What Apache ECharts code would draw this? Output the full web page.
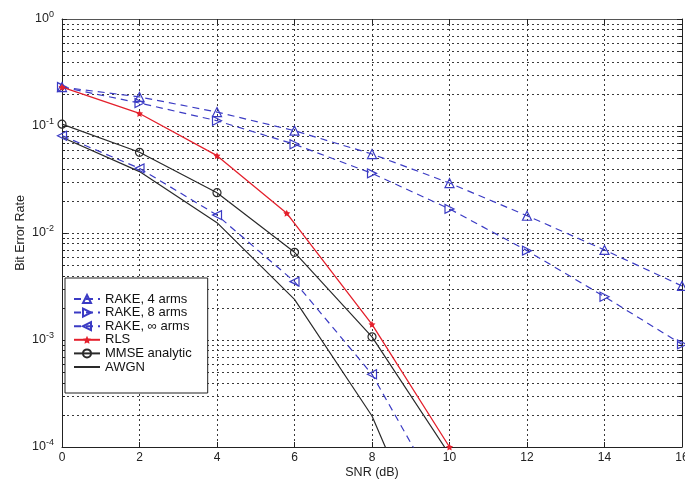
<!DOCTYPE html>
<html><head><meta charset="utf-8">
<script src="https://cdn.jsdelivr.net/npm/echarts@6/dist/echarts.min.js"></script>
<style>html,body{margin:0;padding:0;background:#fff}#c{width:685px;height:481px}</style>
</head><body><div id="c"></div>
<script>
var xTicks = [0, 2, 4, 6, 8, 10, 12, 14, 16];
var yMinorTicks = [2e-4,3e-4,4e-4,5e-4,6e-4,7e-4,8e-4,9e-4,
  2e-3,3e-3,4e-3,5e-3,6e-3,7e-3,8e-3,9e-3,
  2e-2,3e-2,4e-2,5e-2,6e-2,7e-2,8e-2,9e-2,
  0.2,0.3,0.4,0.5,0.6,0.7,0.8,0.9];
var snr = [0, 2, 4, 6, 8, 10, 12, 14, 16];
var rake4 = [0.231, 0.187, 0.135, 0.0904, 0.0547, 0.0293, 0.0145, 0.00694, 0.0032];
var rake8 = [0.231, 0.164, 0.112, 0.0675, 0.0361, 0.0168, 0.00684, 0.00254, 0.00091];
var rakeInfX = [0, 2, 4, 6, 8, 10];
var rakeInf = [0.0812, 0.0402, 0.0147, 0.00351, 0.000478, 0.000025];
var rlsX = [0, 2, 4, 5.8, 6, 8, 10];
var rls = [0.231, 0.131, 0.0528, 0.0153, 0.0123, 0.0014, 0.0001];
var rlsMarked = [true, true, true, true, false, true, true];
var mmseX = [0, 2, 4, 6, 8, 10];
var mmse = [0.104, 0.0568, 0.0238, 0.0066, 0.00107, 0.000085];
var awgnX = [0, 2, 4, 6, 8, 10];
var awgn = [0.0786, 0.0375, 0.0125, 0.00240, 0.000195, 0.000004];
var names = ['RAKE, 4 arms', 'RAKE, 8 arms', 'RAKE, \u221e arms', 'RLS', 'MMSE analytic', 'AWGN'];

function pairs(xs, ys){ return xs.map(function(x,i){ return [x, ys[i]]; }); }
var BLUE = '#3b3bc4', RED = '#e4202c', BLACK = '#2a2a2a';
var FONT = 'Liberation Sans';
var starPath = 'path://M0,-10 L2.9,-4 L9.5,-3.1 L4.8,1.5 L5.9,8.1 L0,5 L-5.9,8.1 L-4.8,1.5 L-9.5,-3.1 L-2.9,-4 Z';

var chart = echarts.init(document.getElementById('c'), null, {renderer:'canvas'});
var gridLine = {show:true, lineStyle:{color:'#3a3a3a', width:1, type:[2,3]}};
function triSeries(name, data, rot){
  return {name:name, type:'line', data:data, clip:true,
    symbol:'triangle', symbolSize:9, symbolRotate:rot, showSymbol:true,
    lineStyle:{color:BLUE, width:1.2, type:[7,5]},
    itemStyle:{color:'rgba(255,255,255,0)', borderColor:BLUE, borderWidth:1.2},
    emphasis:{disabled:true}, z:5};
}
var legendData = names.map(function(n){
  return n === 'AWGN' ? {name:n, itemStyle:{color:'rgba(0,0,0,0)', borderWidth:0, opacity:0}} : {name:n};
});
var option = {
  animation:false,
  backgroundColor:'#fff',
  textStyle:{fontFamily:FONT},
  grid:{left:62, right:3, top:19, bottom:34, containLabel:false, outerBoundsMode:'none'},
  xAxis:[{type:'value', min:0, max:16, interval:2, position:'bottom',
    name:'SNR (dB)', nameLocation:'middle', nameGap:19, nameMoveOverlap:false,
    nameTextStyle:{fontSize:12.5, color:'#222', fontFamily:FONT},
    axisLine:{show:true, onZero:false, lineStyle:{color:'#222', width:1}},
    axisTick:{show:true, inside:true, length:5, lineStyle:{color:'#222'}},
    axisLabel:{fontSize:12, color:'#222', margin:5, fontFamily:FONT},
    splitLine:gridLine},
   {type:'value', min:0, max:16, interval:2, position:'top',
    axisLine:{show:true, onZero:false, lineStyle:{color:'#555', width:1}},
    axisTick:{show:true, inside:true, length:5, lineStyle:{color:'#222'}},
    axisLabel:{show:false}, splitLine:{show:false}}],
  yAxis:[{type:'log', logBase:10, min:1e-4, max:1, position:'left',
    name:'Bit Error Rate', nameLocation:'middle', nameGap:35, nameRotate:90, nameMoveOverlap:false,
    nameTextStyle:{fontSize:12.5, color:'#222', fontFamily:FONT},
    axisLine:{show:true, onZero:false, lineStyle:{color:'#222', width:1}},
    axisTick:{show:true, inside:true, length:5, lineStyle:{color:'#222'}},
    axisLabel:{color:'#222', margin:8, fontFamily:FONT,
      formatter:function(v){ var e = Math.round(Math.log10(v)); return '{b|10}{s|' + (e===0?'0':'-'+(-e)) + '}'; },
      rich:{b:{fontSize:12.5, color:'#222', fontFamily:FONT}, s:{fontSize:9, color:'#222', fontFamily:FONT, verticalAlign:'top', padding:[0,0,9,0]}}},
    splitLine:gridLine},
   {type:'log', logBase:10, min:1e-4, max:1, position:'right',
    axisLine:{show:true, onZero:false, lineStyle:{color:'#222', width:1}},
    axisTick:{show:true, inside:true, length:5, lineStyle:{color:'#222'}},
    axisLabel:{show:false}, splitLine:{show:false}}],
  legend:{data:legendData, orient:'vertical', left:65, top:278,
    padding:[14.5,16,19.5,8], itemGap:0.6, itemWidth:26, itemHeight:10,
    backgroundColor:'#fff', borderColor:'#222', borderWidth:1, borderRadius:0,
    textStyle:{fontSize:13, color:'#111', fontFamily:FONT, lineHeight:13},
    selectedMode:false, z:20},
  series:[
    {name:'minorGrid', type:'custom', data:yMinorTicks.map(function(v){return [0,v];}),
      encode:{x:0, y:1}, silent:true, z:1, clip:false,
      renderItem:function(params, api){
        var p = api.coord([0, api.value(1)]);
        var cs = params.coordSys; var y = Math.round(p[1]) + 0.5;
        return {type:'group', children:[
          {type:'line', shape:{x1:cs.x, y1:y, x2:cs.x+cs.width, y2:y}, style:{stroke:'#3a3a3a', lineWidth:1, lineDash:[2,3]}},
          {type:'line', shape:{x1:cs.x, y1:y, x2:cs.x+3, y2:y}, style:{stroke:'#222', lineWidth:1}},
          {type:'line', shape:{x1:cs.x+cs.width-3, y1:y, x2:cs.x+cs.width, y2:y}, style:{stroke:'#222', lineWidth:1}}
        ]};
      }},
    triSeries(names[0], pairs(snr, rake4), 0),
    triSeries(names[1], pairs(snr, rake8), -90),
    triSeries(names[2], pairs(rakeInfX, rakeInf), 90),
    {name:names[3], type:'line', clip:true,
      data:pairs(rlsX, rls).map(function(d,i){ return rlsMarked[i] ? {value:d} : {value:d, symbol:'none'}; }),
      symbol:starPath, symbolSize:7, showSymbol:true,
      lineStyle:{color:RED, width:1.3}, itemStyle:{color:RED}, emphasis:{disabled:true}, z:6},
    {name:names[4], type:'line', clip:true, data:pairs(mmseX, mmse),
      symbol:'circle', symbolSize:8, showSymbol:true,
      lineStyle:{color:BLACK, width:1.2},
      itemStyle:{color:'rgba(255,255,255,0)', borderColor:BLACK, borderWidth:1.2}, emphasis:{disabled:true}, z:5},
    {name:names[5], type:'line', clip:true, data:pairs(awgnX, awgn),
      symbol:'none', showSymbol:false,
      lineStyle:{color:BLACK, width:1.2}, itemStyle:{color:BLACK}, emphasis:{disabled:true}, z:5}
  ]
};
chart.setOption(option);
</script></body></html>
